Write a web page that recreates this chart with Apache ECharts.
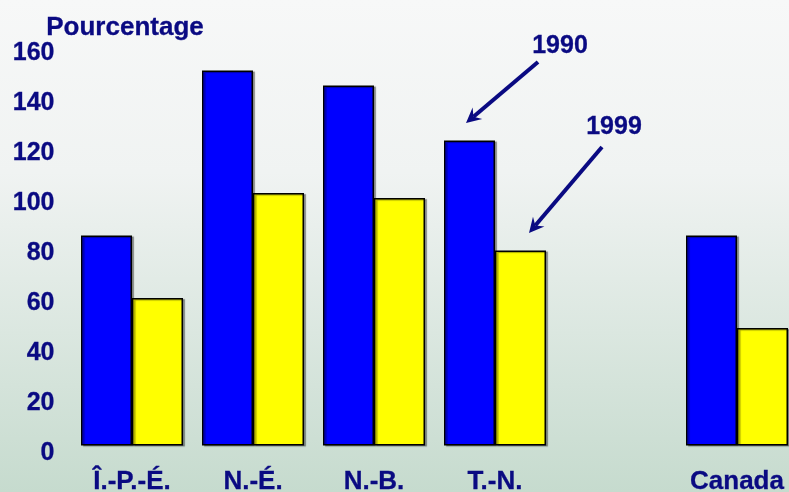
<!DOCTYPE html>
<html>
<head>
<meta charset="utf-8">
<script src="https://cdn.jsdelivr.net/npm/echarts@6/dist/echarts.min.js"></script>
<style>
html,body{margin:0;padding:0;}
#c{width:789px;height:492px;}
</style>
</head>
<body>
<div id="c"></div>
<script>
var categories = ['Î.-P.-É.', 'N.-É.', 'N.-B.', 'T.-N.', '', 'Canada'];
var values1990 = [84, 150, 144, 122, null, 84];
var values1999 = [59, 101, 99, 78, null, 47];
var yTicks = [0, 20, 40, 60, 80, 100, 120, 140, 160];

var navy = '#0a0a82';
var font = '"Liberation Sans", Arial, sans-serif';

function arrow(x1, y1, x2, y2) {
  var dx = x2 - x1, dy = y2 - y1, len = Math.sqrt(dx*dx + dy*dy);
  var ux = dx/len, uy = dy/len, nx = -uy, ny = ux;
  var L = 15, W = 15;
  var bx = x2 - ux*L, by = y2 - uy*L;
  var mx = x2 - ux*L*0.65, my = y2 - uy*L*0.65;
  return [
    {type:'line', shape:{x1:x1, y1:y1, x2:mx, y2:my}, style:{stroke:navy, lineWidth:4}, z:10},
    {type:'polygon', shape:{points:[[x2,y2],[bx+nx*W/2, by+ny*W/2],[mx,my],[bx-nx*W/2, by-ny*W/2]]}, style:{fill:navy}, z:10}
  ];
}

var chart = echarts.init(document.getElementById('c'));
var txt = function (x, y, s, size) {
  return {type:'text', x:x, y:y, z:10,
    style:{text:s, fill:navy, font:'bold ' + size + 'px ' + font, textAlign:'center', textVerticalAlign:'middle',
           stroke:navy, lineWidth:0.3}};
};
var graphics = [].concat(
  arrow(538, 62, 466, 123),
  arrow(602, 147, 529, 233),
  [
    txt(560, 46, '1990', 25),
    txt(614, 127, '1999', 25),
    txt(125, 28, 'Pourcentage', 26)
  ]
);

chart.setOption({
  animation: false,
  backgroundColor: {
    type: 'linear', x: 0, y: 0, x2: 0, y2: 1,
    colorStops: [
      {offset: 0, color: '#f7f8f8'},
      {offset: 0.35, color: '#f0f3f2'},
      {offset: 1, color: '#c6dbce'}
    ]
  },
  grid: {left: 71.5, right: -8.5, top: 45.5, bottom: 46.5, containLabel: false, outerBoundsMode: 'none'},
  xAxis: {
    type: 'category',
    data: categories,
    axisLine: {show: false},
    axisTick: {show: false},
    axisLabel: {color: navy, fontWeight: 'bold', fontSize: 26, fontFamily: font, margin: 23, interval: 0,
                textBorderColor: navy, textBorderWidth: 0.3}
  },
  yAxis: {
    type: 'value',
    min: yTicks[0], max: yTicks[yTicks.length-1], interval: 20,
    splitLine: {show: false},
    axisLine: {show: false},
    axisTick: {show: false},
    axisLabel: {color: navy, fontWeight: 'bold', fontSize: 25, fontFamily: font, margin: 17,
                verticalAlign: 'top', lineHeight: 16,
                textBorderColor: navy, textBorderWidth: 0.3}
  },
  graphic: graphics,
  series: [
    {
      name: '1990', type: 'bar', data: values1990, barWidth: 51, barGap: '0%',
      itemStyle: {color: '#0000ff', borderColor: '#000000', borderWidth: 1.5,
                  shadowColor: 'rgba(0,0,0,0.35)', shadowOffsetX: 2, shadowOffsetY: 1, shadowBlur: 1}
    },
    {
      name: '1999', type: 'bar', data: values1999, barWidth: 51, barGap: '0%',
      itemStyle: {color: '#ffff00', borderColor: '#000000', borderWidth: 1.5,
                  shadowColor: 'rgba(0,0,0,0.35)', shadowOffsetX: 2, shadowOffsetY: 1, shadowBlur: 1}
    }
  ]
});
</script>
</body>
</html>
